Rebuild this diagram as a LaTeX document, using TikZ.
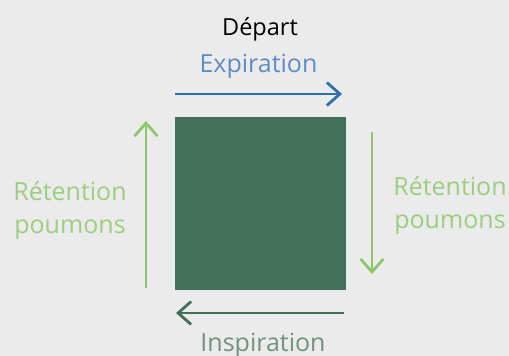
\documentclass[tikz,border=0pt]{standalone}
\usepackage{fontspec}
\setmainfont{Open Sans}
\usetikzlibrary{arrows.meta}
\definecolor{bgcol}{HTML}{EBEBEB}
\definecolor{boxgreen}{HTML}{44705B}
\definecolor{darkblue}{HTML}{2F6EAF}
\definecolor{lightblue}{HTML}{5E8CC6}
\definecolor{lightgreen}{HTML}{8EC66E}
\definecolor{palegreen}{HTML}{9CCD80}
\definecolor{darkgreen}{HTML}{41705A}
\definecolor{greytext}{HTML}{6F937F}
\tikzset{
  x=1pt, y=-1pt,
  flow/.style={line width=2.8pt, -{Straight Barb[length=13pt,width=23pt,line width=2.8pt]}},
  lbl/.style={font=\fontsize{25}{33}\selectfont, inner sep=0pt, align=center, anchor=base},
}
\begin{document}
\begin{tikzpicture}
  \fill[bgcol] (0,0) rectangle (509,356);
  \useasboundingbox (0,0) rectangle (509,356);

  % central square
  \node[fill=boxgreen, minimum width=171pt, minimum height=173pt, inner sep=0pt] (box) at (260.5,203.5) {};

  % labels (base anchor = baseline of the last line)
  \node[lbl, text=black, font=\fontsize{23.5}{33}\selectfont] (depart) at (260,35) {Départ};
  \node[lbl, text=lightblue] (expi) at (258.5,72) {Expiration};
  \node[lbl, text=palegreen] (retL) at (70,233) {Rétention\\poumons};
  \node[lbl, text=palegreen] (retR) at (450,228) {Rétention\\poumons};
  \node[lbl, text=greytext] (inspi) at (263,351) {Inspiration};

  % arrow end points
  \coordinate (t1) at (175,94);  \coordinate (t2) at (342,94);
  \coordinate (r1) at (372,132); \coordinate (r2) at (372,274);
  \coordinate (b1) at (344,313); \coordinate (b2) at (176,313);
  \coordinate (l1) at (146,288); \coordinate (l2) at (146,121);

  \draw[flow, darkblue] (t1) -- (t2);
  \draw[flow, lightgreen] (r1) -- (r2);
  \draw[flow, darkgreen] (b1) -- (b2);
  \draw[flow, lightgreen] (l1) -- (l2);
\end{tikzpicture}
\end{document}
